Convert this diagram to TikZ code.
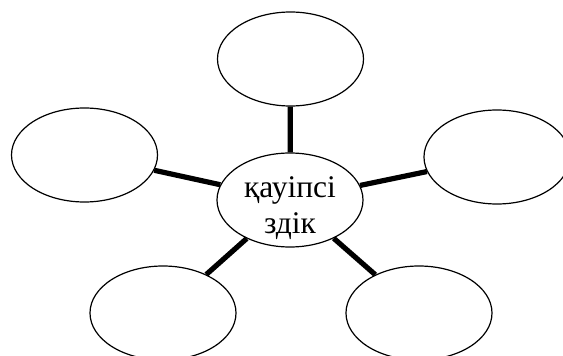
\documentclass[tikz,border=0pt]{standalone}
\usepackage{fontspec}
\setmainfont{Liberation Serif}
\usetikzlibrary{shapes.geometric}
\begin{document}
\begin{tikzpicture}[x=1pt,y=-1pt,
  bubble/.style={ellipse, draw=black, line width=1.2pt, minimum width=146pt, minimum height=94pt, inner sep=0pt},
  spoke/.style={line width=5.2pt, black}]
\useasboundingbox (0,0) rectangle (563,356);
\node[bubble] (c) at (290,200) {};
\node[bubble] (t) at (290.5,59) {};
\node[bubble] (l) at (84.5,155) {};
\node[bubble] (r) at (497,157) {};
\node[bubble] (bl) at (163,313) {};
\node[bubble] (br) at (419,313) {};
\node[font=\fontsize{31.5}{36}\selectfont, align=center, inner sep=0pt] (txt) at (290,208) {қауіпсі\\здік};
\draw[spoke] (c) -- (t);
\draw[spoke] (c) -- (l);
\draw[spoke] (c) -- (r);
\draw[spoke] (c) -- (bl);
\draw[spoke] (c) -- (br);
\end{tikzpicture}
\end{document}
